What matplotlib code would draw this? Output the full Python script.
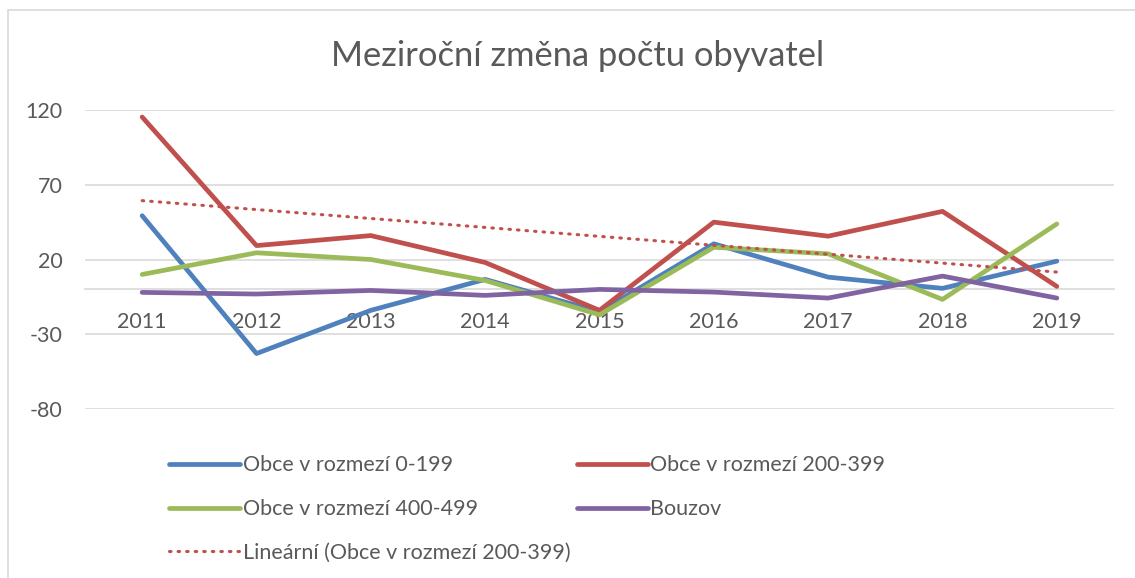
import numpy as np
import matplotlib
matplotlib.use('Agg')
import matplotlib.pyplot as plt
from matplotlib.patches import Rectangle

plt.rcParams['font.family'] = ['Lato', 'DejaVu Sans']
plt.rcParams['axes.unicode_minus'] = False

YEARS = ['2011', '2012', '2013', '2014', '2015', '2016', '2017', '2018', '2019']
OBCE_0_199 = [49.3, -42.9, -14.0, 6.7, -15.0, 30.5, 8.2, 0.7, 18.9]
OBCE_200_399 = [115.3, 29.3, 36.0, 18.0, -14.0, 45.0, 35.6, 52.2, 2.0]
OBCE_400_499 = [10.0, 24.5, 20.0, 6.0, -17.0, 28.2, 23.8, -6.7, 43.8]
BOUZOV = [-2.0, -3.1, -0.7, -4.0, 0.0, -1.8, -5.8, 8.9, -5.8]
Y_TICKS = [-80, -30, 20, 70, 120]

TXT = '#595959'
GRID = '#D9D9D9'

fig = plt.figure(figsize=(11.35, 5.78), dpi=100)
# chart frame (cut off on the right/bottom like in the screenshot)
fig.patches.append(Rectangle((8 / 1135, -0.05), 1.1, 1 - 10 / 578 + 0.05,
                             transform=fig.transFigure, fill=False,
                             ec=GRID, lw=1.2))

ax = fig.add_axes([85 / 1135, 1 - 409 / 578, (1114 - 85) / 1135, (409 - 110) / 578])
x = np.arange(len(YEARS))

LW = 3.4
kw = dict(lw=LW, solid_capstyle='round', solid_joinstyle='round', zorder=3)
l1, = ax.plot(x, OBCE_0_199, color='#4F81BD', label='Obce v rozmezí 0-199', **kw)
l2, = ax.plot(x, OBCE_200_399, color='#C0504D', label='Obce v rozmezí 200-399', **kw)
l3, = ax.plot(x, OBCE_400_499, color='#9BBB59', label='Obce v rozmezí 400-499', **kw)
l4, = ax.plot(x, BOUZOV, color='#8064A2', label='Bouzov', **kw)

# Excel "Lineární" trendline of the 200-399 series
k, q = np.polyfit(x, OBCE_200_399, 1)
l5, = ax.plot(x, k * x + q, color='#C0504D', lw=2.2, ls=(0, (0.5, 2.3)),
              dash_capstyle='round', label='Lineární (Obce v rozmezí 200-399)', zorder=4)

ax.set_xlim(-0.5, len(YEARS) - 0.5)
ax.set_ylim(-80, 120)
ax.set_yticks(Y_TICKS)
ax.set_xticks(x)
ax.set_xticklabels(YEARS)
ax.yaxis.grid(True, color=GRID, lw=1.2)
ax.set_axisbelow(True)
for s in ['top', 'right', 'left']:
    ax.spines[s].set_visible(False)
ax.spines['bottom'].set_position(('data', 0))
ax.spines['bottom'].set_color(GRID)
ax.spines['bottom'].set_linewidth(1.2)
ax.tick_params(axis='both', length=0, labelsize=15.5, colors=TXT)
ax.tick_params(axis='x', pad=16)
ax.tick_params(axis='y', pad=16)

fig.text(578 / 1135, 1 - 56 / 578, 'Meziroční změna počtu obyvatel', ha='center', va='center',
         fontsize=24.8, color=TXT)

leg = fig.legend(handles=[l1, l3, l5, l2, l4], ncol=2, frameon=False,
                 loc='upper left', bbox_to_anchor=(150 / 1135, 1 - 436 / 578),
                 fontsize=15.5, labelcolor=TXT, handlelength=3.3, handletextpad=0.1,
                 columnspacing=0.3, labelspacing=1.1)

fig.savefig('out.png', dpi=100)
